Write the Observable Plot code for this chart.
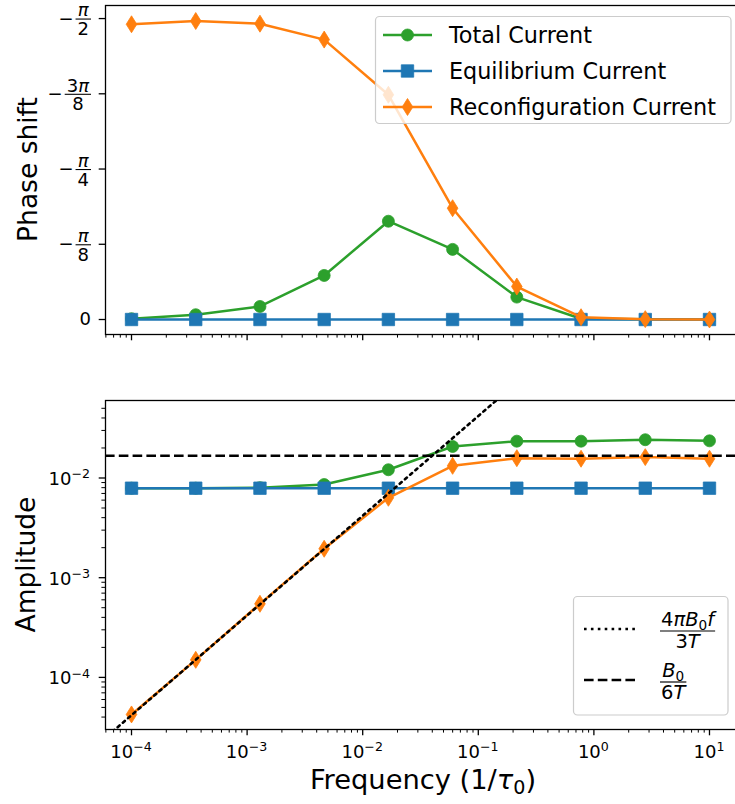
<!DOCTYPE html>
<html><head><meta charset="utf-8">
<script src="https://cdn.jsdelivr.net/npm/d3@7"></script>
<script src="https://cdn.jsdelivr.net/npm/@observablehq/plot@0.6"></script>
<style>
html,body{margin:0;padding:0;background:#fff;overflow:hidden;}
#fig{width:735px;height:804px;overflow:hidden;font-family:"DejaVu Sans",sans-serif;}
#fig svg{display:block;overflow:visible;max-width:none !important;}
</style></head><body><div id="fig"></div>
<script>
const PI = Math.PI;
// ---- data ----
const freq = [1e-4, 3.594e-4, 1.292e-3, 4.642e-3, 1.668e-2, 5.995e-2, 0.2154, 0.7743, 2.783, 10];
const seriesNames = ["Total Current", "Equilibrium Current", "Reconfiguration Current"];
const colors = ["#2ca02c", "#1f77b4", "#ff7f0e"];
// phase shift (radians)
const phaseTotal = [-0.004, -0.025, -0.068, -0.230, -0.513, -0.366, -0.117, -0.004, -0.001, 0];
const phaseEquilibrium = [0, 0, 0, 0, 0, 0, 0, 0, 0, 0];
const phaseReconfig = [-1.541, -1.558, -1.544, -1.461, -1.173, -0.581, -0.172, -0.012, -0.002, 0];
// amplitude
const ampTotal = [0.0079, 0.0079, 0.0080, 0.0086, 0.0121, 0.0207, 0.0234, 0.0234, 0.0242, 0.0236];
const ampEquilibrium = [0.0079, 0.0079, 0.0079, 0.0079, 0.0079, 0.0079, 0.0079, 0.0079, 0.0079, 0.0079];
const ampReconfig = [4.25e-5, 1.50e-4, 5.47e-4, 1.95e-3, 6.33e-3, 0.01324, 0.0158, 0.0156, 0.0162, 0.0156];
// reference curves: low-frequency asymptote (two end points) and high-frequency limit
const asymFreq = [5e-5, 0.2];
const asymAmp = [2.09e-5, 0.0838];
const highFreqLimit = [0.0167];
// ticks and tick labels
const freqTicks = [1e-4, 1e-3, 1e-2, 1e-1, 1, 10];
const freqTickLabels = [["10", "−4"], ["10", "−3"], ["10", "−2"], ["10", "−1"], ["10", "0"], ["10", "1"]];
const phaseTicks = [0, -PI / 8, -PI / 4, -3 * PI / 8, -PI / 2];
const phaseTickLabels = [
  {text: "0"},
  {sign: "−", num: [["π", "i"]], den: [["8"]]},
  {sign: "−", num: [["π", "i"]], den: [["4"]]},
  {sign: "−", num: [["3"], ["π", "i"]], den: [["8"]]},
  {sign: "−", num: [["π", "i"]], den: [["2"]]}
];
const ampTicks = [1e-4, 1e-3, 1e-2];
const ampTickLabels = [["10", "−4"], ["10", "−3"], ["10", "−2"]];
const refLegend = [
  {num: [["4"], ["π", "i"], ["B", "i"], ["0", "sub"], ["f", "i"]], den: [["3"], ["T", "i"]]},
  {num: [["B", "i"], ["0", "sub"]], den: [["6"], ["T", "i"]]}
];

// ---- layout ----
const W = 738, ML = 105, MR = 0, LW = 2.5, BLW = 2.6;
const xDomain = [10 ** -4.225, 10 ** 1.251];
const TICK = 18, LEG = 22.3, LAB = 26.5, XLAB = 27.3;
const rows = freq.map((f, i) => ({f, pt: phaseTotal[i], pe: phaseEquilibrium[i], pr: phaseReconfig[i],
  at: ampTotal[i], ae: ampEquilibrium[i], ar: ampReconfig[i]}));
const asymRows = asymFreq.map((f, i) => ({f, a: asymAmp[i]}));

const thinDiamond = {draw(ctx, size) {
  const r = Math.sqrt(size / Math.PI);
  ctx.moveTo(0, -1.6 * r); ctx.lineTo(r, 0); ctx.lineTo(0, 1.6 * r); ctx.lineTo(-r, 0); ctx.closePath();
}};
const symbols = [d3.symbolCircle, d3.symbolSquare, thinDiamond];
const radii = [6, 7, 5.3];

function minorTicks(lo, hi) {
  const out = [];
  for (let e = -7; e <= 3; e++) for (let m = 2; m <= 9; m++) { const v = m * 10 ** e; if (v >= lo && v <= hi) out.push(v); }
  return out;
}
const style = {fontFamily: "DejaVu Sans", fontSize: "18px", color: "#000", background: "transparent", overflow: "visible", maxWidth: "none"};

function seriesMarks(keys) {
  const m = [];
  keys.forEach((k, i) => {
    m.push(Plot.line(rows, {x: "f", y: k, stroke: colors[i], strokeWidth: LW}));
    m.push(Plot.dot(rows, {x: "f", y: k, fill: colors[i], stroke: colors[i], strokeWidth: 0.8, symbol: i === 0 ? "circle" : i === 1 ? "square" : thinDiamond, r: radii[i]}));
  });
  return m;
}
function xAxes() {
  return [
    Plot.axisX(freqTicks, {anchor: "bottom", tickSize: 6.3, strokeWidth: 1.3, tickFormat: () => "", label: null}),
    Plot.axisX(minorTicks(...xDomain), {anchor: "bottom", tickSize: 3.6, strokeWidth: 1.0, tickFormat: () => "", label: null})
  ];
}

const topPlot = Plot.plot({
  width: W, height: 340, marginLeft: ML, marginRight: MR, marginTop: 5, marginBottom: 6, style,
  x: {type: "log", domain: xDomain, axis: null},
  y: {domain: [0.0249 * PI, -0.5217 * PI], axis: null},
  marks: [
    ...seriesMarks(["pt", "pe", "pr"]),
    Plot.frame({stroke: "#000", strokeWidth: 1.3}),
    ...xAxes(),
    Plot.axisY(phaseTicks, {anchor: "left", tickSize: 6.3, strokeWidth: 1.3, tickFormat: () => "", label: null})
  ]
});

const ampDomain = [10 ** -4.5226, 10 ** -1.2227];
const botPlot = Plot.plot({
  width: W, height: 464, marginLeft: ML, marginRight: MR, marginTop: 60, marginBottom: 75, style,
  x: {type: "log", domain: xDomain, axis: null},
  y: {type: "log", domain: ampDomain, axis: null},
  marks: [
    ...seriesMarks(["at", "ae", "ar"]),
    Plot.line(asymRows, {x: "f", y: "a", stroke: "#000", strokeWidth: BLW, strokeDasharray: "2.6,4.3", clip: true}),
    Plot.ruleY(highFreqLimit, {stroke: "#000", strokeWidth: BLW, strokeDasharray: "9.6,4.2"}),
    Plot.frame({stroke: "#000", strokeWidth: 1.3}),
    ...xAxes(),
    Plot.axisY(ampTicks, {anchor: "left", tickSize: 6.3, strokeWidth: 1.3, tickFormat: () => "", label: null}),
    Plot.axisY(minorTicks(...ampDomain), {anchor: "left", tickSize: 3.6, strokeWidth: 1.0, tickFormat: () => "", label: null})
  ]
});

const fig = document.getElementById("fig");
fig.appendChild(topPlot);
fig.appendChild(botPlot);

function px(plot, name) {
  const sc = plot.scale(name);
  if (sc.apply) return v => sc.apply(v);
  return (sc.type === "log" ? d3.scaleLog() : d3.scaleLinear()).domain(sc.domain).range(sc.range);
}
function addMath(textSel, parts, fs) {
  let shift = 0;
  for (const [s, kind] of parts) {
    const ts = textSel.append("tspan").text(s);
    let target = 0;
    if (kind === "sub") { target = 0.2 * fs; ts.attr("font-size", 0.7 * fs); }
    else if (kind === "sup") { target = -0.38 * fs; ts.attr("font-size", 0.7 * fs); }
    else if (kind === "i") ts.attr("font-style", "italic");
    if (target - shift !== 0) ts.attr("dy", target - shift);
    shift = target;
  }
}
function fraction(g, xLeft, xRight, yBar, num, den, fs, pad, nOff, dOff) {
  const nT = g.append("text").attr("font-size", fs).attr("text-anchor", "middle").attr("y", yBar - nOff * fs);
  addMath(nT, num, fs);
  const dT = g.append("text").attr("font-size", fs).attr("text-anchor", "middle").attr("y", yBar + dOff * fs);
  addMath(dT, den, fs);
  const w = Math.max(nT.node().getComputedTextLength(), dT.node().getComputedTextLength()) + 2 * pad;
  const x0 = xLeft != null ? xLeft : xRight - w;
  nT.attr("x", x0 + w / 2); dT.attr("x", x0 + w / 2);
  g.append("line").attr("x1", x0).attr("x2", x0 + w).attr("y1", yBar).attr("y2", yBar).attr("stroke", "#000").attr("stroke-width", 0.06 * fs);
  return x0;
}

// ---- top panel text ----
{
  const svg = d3.select(topPlot);
  const y = px(topPlot, "y");
  const g = svg.append("g").attr("font-family", "DejaVu Sans").attr("fill", "#000");
  phaseTicks.forEach((v, i) => {
    const lab = phaseTickLabels[i], ty = y(v);
    if (lab.text) {
      g.append("text").attr("x", 91).attr("y", ty + 0.36 * TICK).attr("text-anchor", "end").attr("font-size", TICK).text(lab.text);
    } else {
      const x0 = fraction(g, null, 91, ty + 1, lab.num, lab.den, TICK, 2, 0.15, 0.9);
      g.append("text").attr("x", x0 - 2).attr("y", ty + 1 + 0.31 * TICK).attr("text-anchor", "end").attr("font-size", TICK).text(lab.sign);
    }
  });
  g.append("text").attr("transform", `translate(37,${(5 + 334) / 2}) rotate(-90)`).attr("text-anchor", "middle").attr("font-size", LAB).text("Phase shift");
  // legend
  const lg = svg.append("g").attr("font-family", "DejaVu Sans");
  lg.append("rect").attr("x", 375.5).attr("y", 16.5).attr("width", 355.5).attr("height", 107).attr("rx", 4)
    .attr("fill", "#fff").attr("fill-opacity", 0.8).attr("stroke", "#cccccc").attr("stroke-width", 1.2);
  const ly = [35, 71, 107];
  seriesNames.forEach((name, i) => {
    lg.append("line").attr("x1", 383).attr("x2", 432).attr("y1", ly[i]).attr("y2", ly[i]).attr("stroke", colors[i]).attr("stroke-width", LW);
    lg.append("path").attr("transform", `translate(407.5,${ly[i]})`).attr("d", d3.symbol(symbols[i], radii[i] * radii[i] * Math.PI)())
      .attr("fill", colors[i]).attr("stroke", colors[i]).attr("stroke-width", 0.8);
    lg.append("text").attr("x", 449).attr("y", ly[i] + 8).attr("text-anchor", "start").attr("font-size", LEG).attr("fill", "#000").text(name);
  });
}

// ---- bottom panel text ----
{
  const svg = d3.select(botPlot);
  const x = px(botPlot, "x"), y = px(botPlot, "y");
  const g = svg.append("g").attr("font-family", "DejaVu Sans").attr("fill", "#000");
  const frameBottom = 464 - 75;
  freqTicks.forEach((v, i) => {
    const t = g.append("text").attr("x", x(v)).attr("y", frameBottom + 28.5).attr("text-anchor", "middle").attr("font-size", TICK);
    addMath(t, [[freqTickLabels[i][0]], [freqTickLabels[i][1], "sup"]], TICK);
  });
  ampTicks.forEach((v, i) => {
    const t = g.append("text").attr("x", 90).attr("y", y(v) + 7.5).attr("text-anchor", "end").attr("font-size", TICK);
    addMath(t, [[ampTickLabels[i][0]], [ampTickLabels[i][1], "sup"]], TICK);
  });
  g.append("text").attr("transform", `translate(35,${(60 + frameBottom) / 2}) rotate(-90)`).attr("text-anchor", "middle").attr("font-size", LAB).text("Amplitude");
  const xl = g.append("text").attr("x", (ML + 735) / 2 + 3).attr("y", 789 - 340).attr("text-anchor", "middle").attr("font-size", XLAB);
  addMath(xl, [["Frequency (1/"], ["τ", "i"], ["0", "sub"], [")"]], XLAB);
  // legend
  const o = -340;
  const lg = svg.append("g").attr("font-family", "DejaVu Sans").attr("fill", "#000");
  lg.append("rect").attr("x", 573.5).attr("y", 596.5 + o).attr("width", 154.5).attr("height", 118.5).attr("rx", 4)
    .attr("fill", "#fff").attr("fill-opacity", 0.8).attr("stroke", "#cccccc").attr("stroke-width", 1.2);
  const hy = [629 + o, 680 + o], dashes = ["2.6,4.3", "9.6,4.2"];
  refLegend.forEach((r, i) => {
    lg.append("line").attr("x1", 584).attr("x2", 638).attr("y1", hy[i]).attr("y2", hy[i]).attr("stroke", "#000")
      .attr("stroke-width", BLW).attr("stroke-dasharray", dashes[i]);
    fraction(lg, 660, null, hy[i] + 2, r.num, r.den, 19.5, 1, 0.27, 0.86);
  });
}
</script></body></html>
